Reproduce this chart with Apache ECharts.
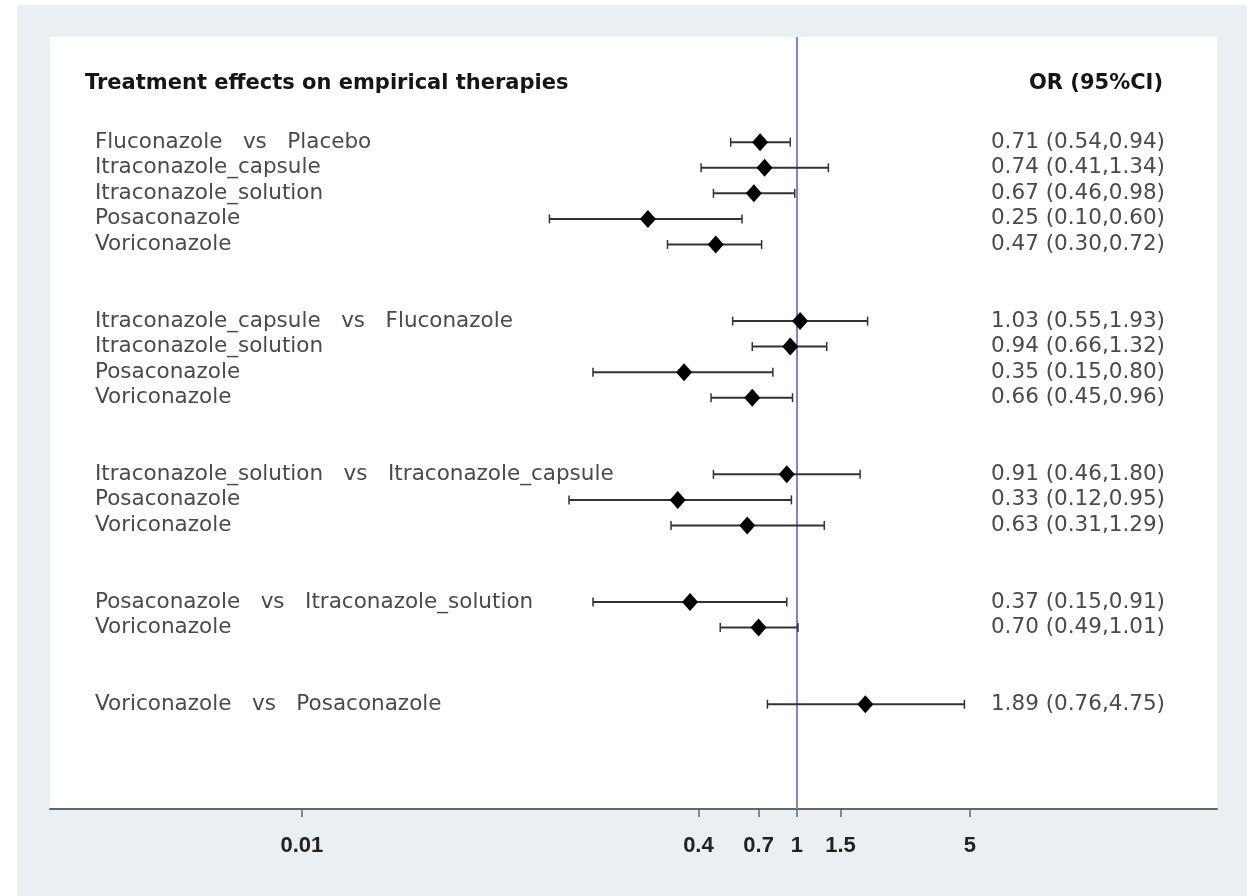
<!DOCTYPE html>
<html>
<head>
<meta charset="utf-8">
<script src="https://cdn.jsdelivr.net/npm/echarts@6/dist/echarts.min.js"></script>
<style>
  html, body { margin: 0; padding: 0; background: #ffffff; }
  #bg { position: absolute; left: 17px; top: 5px; width: 1230px; height: 891px; background: #e9eff2; }
  #chart { position: absolute; left: 0; top: 0; width: 1256px; height: 896px; }
</style>
</head>
<body>
<div id="bg"></div>
<div id="chart"></div>
<script>
// ---- data ----
const comparisonLabels = [
  'Fluconazole   vs   Placebo',
  'Itraconazole_capsule',
  'Itraconazole_solution',
  'Posaconazole',
  'Voriconazole',
  'Itraconazole_capsule   vs   Fluconazole',
  'Itraconazole_solution',
  'Posaconazole',
  'Voriconazole',
  'Itraconazole_solution   vs   Itraconazole_capsule',
  'Posaconazole',
  'Voriconazole',
  'Posaconazole   vs   Itraconazole_solution',
  'Voriconazole',
  'Voriconazole   vs   Posaconazole'
];
const groupSizes = [5, 4, 3, 2, 1];
const oddsRatio = [0.71, 0.74, 0.67, 0.25, 0.47, 1.03, 0.94, 0.35, 0.66, 0.91, 0.33, 0.63, 0.37, 0.70, 1.89];
const ciLower   = [0.54, 0.41, 0.46, 0.10, 0.30, 0.55, 0.66, 0.15, 0.45, 0.46, 0.12, 0.31, 0.15, 0.49, 0.76];
const ciUpper   = [0.94, 1.34, 0.98, 0.60, 0.72, 1.93, 1.32, 0.80, 0.96, 1.80, 0.95, 1.29, 0.91, 1.01, 4.75];
const xTickValues = [0.01, 0.4, 0.7, 1, 1.5, 5];
const titleText = 'Treatment effects on empirical therapies';
const headerText = 'OR (95%CI)';

// ---- row slots (groups separated by two blank rows) ----
const blankRowsBetweenGroups = 2;
const rowIndex = [];
let slot = 0;
groupSizes.forEach(n => {
  for (let i = 0; i < n; i++) rowIndex.push(slot++);
  slot += blankRowsBetweenGroups;
});
const fmt = v => v.toFixed(2);
const orText = oddsRatio.map((v, i) => `${fmt(v)} (${fmt(ciLower[i])},${fmt(ciUpper[i])})`);
const leftLabelByRow = {}, rightLabelByRow = {};
rowIndex.forEach((r, i) => { leftLabelByRow[r] = comparisonLabels[i]; rightLabelByRow[r] = orText[i]; });

const chart = echarts.init(document.getElementById('chart'), null, { renderer: 'canvas' });

const labelFont = { fontFamily: 'DejaVu Sans', fontSize: 21.5, color: '#4a4a4a' };

const option = {
  backgroundColor: 'transparent',
  animation: false,
  grid: {
    left: 50, right: 39, top: 37, bottom: 87,
    show: true, backgroundColor: '#ffffff', borderWidth: 0,
    containLabel: false, outerBoundsMode: 'none'
  },
  xAxis: {
    type: 'log',
    logBase: 10,
    min: 0.00096,
    max: 49.8,
    axisLine: { show: true, onZero: false, lineStyle: { color: '#666666', width: 2 } },
    axisTick: { show: true, customValues: xTickValues, length: 8, lineStyle: { color: '#666666', width: 1.5 } },
    axisLabel: {
      show: true, customValues: xTickValues, margin: 26,
      formatter: v => String(v),
      fontFamily: 'Arial, Helvetica, sans-serif', fontWeight: 'bold', fontSize: 22, color: '#222222'
    },
    splitLine: { show: false },
    minorTick: { show: false },
    minorSplitLine: { show: false }
  },
  yAxis: [
    {
      type: 'value', inverse: true, min: -4.12, max: 26.1, position: 'left',
      axisLine: { show: false }, axisTick: { show: false }, splitLine: { show: false },
      axisLabel: {
        show: true, inside: true, margin: 45, align: 'left',
        customValues: rowIndex,
        formatter: v => leftLabelByRow[Math.round(v)] || '',
        ...labelFont
      }
    },
    {
      type: 'value', inverse: true, min: -4.12, max: 26.1, position: 'right',
      axisLine: { show: false }, axisTick: { show: false }, splitLine: { show: false },
      axisLabel: {
        show: true, inside: true, margin: 52, align: 'right',
        customValues: rowIndex,
        formatter: v => rightLabelByRow[Math.round(v)] || '',
        ...labelFont
      }
    }
  ],
  graphic: [
    {
      type: 'text', left: 85, top: 86 - 13,
      style: { text: titleText, fontFamily: 'DejaVu Sans', fontWeight: 'bold', fontSize: 21, fill: '#151515' }
    },
    {
      type: 'text', right: 1256 - 1163, top: 86 - 13,
      style: { text: headerText, fontFamily: 'DejaVu Sans', fontWeight: 'bold', fontSize: 21, fill: '#151515' }
    }
  ],
  series: [
    {
      type: 'custom',
      name: 'CI',
      xAxisIndex: 0, yAxisIndex: 0,
      data: rowIndex.map((r, i) => [ciLower[i], ciUpper[i], r]),
      encode: { x: [0, 1], y: 2 },
      renderItem: (params, api) => {
        const a = api.coord([api.value(0), api.value(2)]);
        const b = api.coord([api.value(1), api.value(2)]);
        const cap = 4.5;
        const style = { stroke: '#333333', lineWidth: 2 };
        return {
          type: 'group',
          children: [
            { type: 'line', shape: { x1: a[0], y1: a[1], x2: b[0], y2: b[1] }, style },
            { type: 'line', shape: { x1: a[0], y1: a[1] - cap, x2: a[0], y2: a[1] + cap }, style: { stroke: '#333333', lineWidth: 1.5 } },
            { type: 'line', shape: { x1: b[0], y1: b[1] - cap, x2: b[0], y2: b[1] + cap }, style: { stroke: '#333333', lineWidth: 1.5 } }
          ]
        };
      },
      z: 3
    },
    {
      type: 'scatter',
      name: 'OR',
      xAxisIndex: 0, yAxisIndex: 0,
      data: rowIndex.map((r, i) => [oddsRatio[i], r]),
      symbol: 'diamond',
      symbolSize: [16, 18],
      itemStyle: { color: '#000000', opacity: 1 },
      z: 4,
      markLine: {
        silent: true,
        symbol: 'none',
        label: { show: false },
        lineStyle: { color: '#8282c4', width: 2, type: 'solid' },
        data: [{ xAxis: 1 }],
        z: 2
      }
    }
  ]
};

chart.setOption(option);
</script>
</body>
</html>
